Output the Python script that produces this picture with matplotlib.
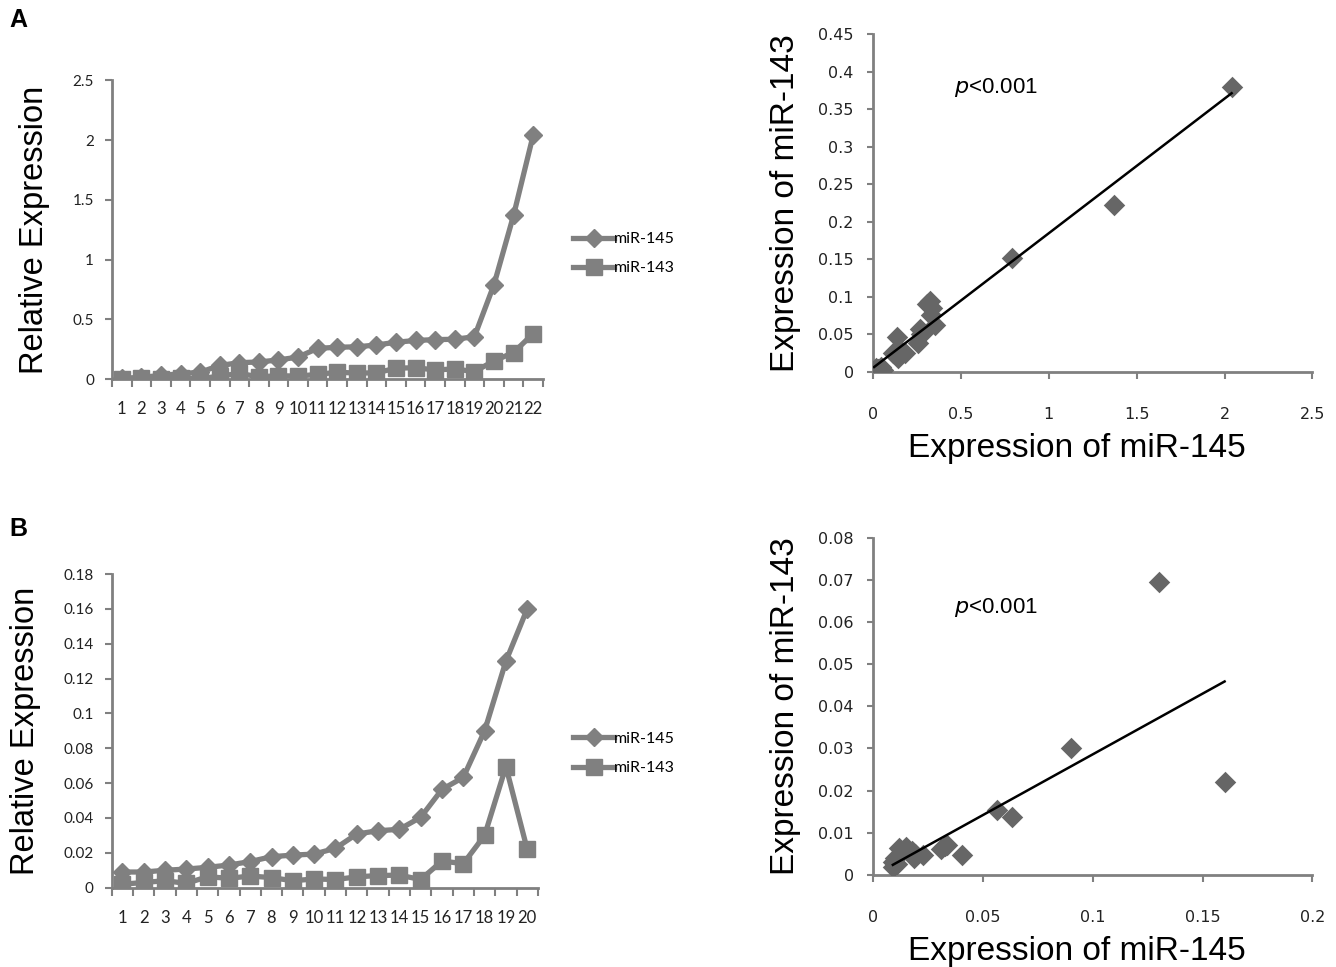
import matplotlib
matplotlib.use("Agg")
import matplotlib.pyplot as plt
import numpy as np

# panel A: 22 samples sorted by miR-145
mir145_a = [0.006, 0.015, 0.03, 0.045, 0.057, 0.114, 0.137, 0.143, 0.16, 0.184,
            0.257, 0.266, 0.27, 0.285, 0.308, 0.323, 0.33, 0.333, 0.354, 0.79, 1.37, 2.04]
mir143_a = [0.001, 0.005, 0.004, 0.006, 0.003, 0.025, 0.047, 0.019, 0.028, 0.025,
            0.039, 0.057, 0.05, 0.052, 0.091, 0.095, 0.076, 0.085, 0.062, 0.152, 0.222, 0.38]

# panel B: 20 samples sorted by miR-145
mir145_b = [0.009, 0.009, 0.010, 0.0107, 0.0117, 0.013, 0.015, 0.0178, 0.0187, 0.0193,
            0.0226, 0.0308, 0.0327, 0.0335, 0.0404, 0.0564, 0.0633, 0.090, 0.130, 0.160]
mir143_b = [0.002, 0.003, 0.004, 0.0025, 0.0063, 0.0054, 0.0067, 0.0058, 0.004, 0.005,
            0.0047, 0.0062, 0.007, 0.0072, 0.0047, 0.0153, 0.0138, 0.030, 0.0695, 0.022]

gray = "#808080"
dark = "#666666"
tickfont = ["Liberation Sans Narrow", "DejaVu Sans"]

fig = plt.figure(figsize=(13.36, 9.67), dpi=100)


def line_panel(rect, v145, v143, ymax, ystep, leg_y):
    ax = fig.add_axes(rect)
    n = len(v145)
    x = np.arange(1, n + 1)
    l1, = ax.plot(x, v145, color=gray, lw=3.8, marker="D", ms=9, label="miR-145")
    l2, = ax.plot(x, v143, color=gray, lw=3.8, marker="s", ms=11, label="miR-143")
    ax.set_xlim(0.5, n + 0.5)
    ax.set_ylim(0, ymax)
    ax.set_yticks(np.arange(0, ymax + ystep / 2, ystep))
    ax.set_yticklabels(["%g" % v for v in np.arange(0, ymax + ystep / 2, ystep)],
                       family=["Lato", "DejaVu Sans"], fontsize=11, color="#222222")
    ax.set_xticks(x)
    ax.set_xticklabels([str(i) for i in x], family=["Lato", "DejaVu Sans"],
                       fontsize=12, color="#222222")
    ax.set_xticks(np.arange(0.5, n + 1), minor=True)
    ax.tick_params(axis="x", which="major", length=0, pad=16)
    ax.tick_params(axis="x", which="minor", length=6, width=1.5, color=gray, direction="out")
    ax.tick_params(axis="y", length=5, width=1.5, color=gray, direction="out", pad=8)
    for s in ["top", "right"]:
        ax.spines[s].set_visible(False)
    for s in ["left", "bottom"]:
        ax.spines[s].set_color(gray)
        ax.spines[s].set_linewidth(2)
    ax.set_ylabel("Relative Expression", family="Liberation Sans", fontsize=23.5, labelpad=16)
    fig.legend(handles=[l1, l2], loc="upper left", bbox_to_anchor=(0.418, leg_y),
               frameon=False, handlelength=2.6, handletextpad=0.0,
               labelspacing=0.95, prop={"family": ["Lato", "DejaVu Sans"], "size": 11.5})
    return ax


def scatter_panel(rect, xv, yv, xmax, xstep, ymax, ystep, text_xy):
    ax = fig.add_axes(rect)
    xv = np.array(xv)
    yv = np.array(yv)
    ax.scatter(xv, yv, marker="D", s=120, color=dark, zorder=3, linewidths=0)
    k, b = np.polyfit(xv, yv, 1)
    xs = np.array([xv.min(), xv.max()])
    ax.plot(xs, k * xs + b, color="black", lw=1.8, zorder=4)
    ax.set_xlim(0, xmax)
    ax.set_ylim(0, ymax)
    xt = np.arange(0, xmax + xstep / 2, xstep)
    yt = np.arange(0, ymax + ystep / 2, ystep)
    ax.set_xticks(xt)
    ax.set_xticklabels(["%g" % round(v, 3) for v in xt], family=tickfont, fontsize=11.5, color="#222222")
    ax.set_yticks(yt)
    ax.set_yticklabels(["%g" % round(v, 3) for v in yt], family=tickfont, fontsize=11.5, color="#222222")
    ax.tick_params(axis="x", length=5, width=1.5, color=gray, direction="out", pad=20)
    ax.tick_params(axis="y", length=4, width=1.5, color=gray, direction="out", pad=10)
    for s in ["top", "right"]:
        ax.spines[s].set_visible(False)
    for s in ["left", "bottom"]:
        ax.spines[s].set_color(gray)
        ax.spines[s].set_linewidth(2)
    ax.set_xlabel("Expression of miR-145", family="Liberation Sans", fontsize=24, labelpad=8)
    ax.xaxis.label.set_x(0.463)
    ax.set_ylabel("Expression of miR-143", family="Liberation Sans", fontsize=24, labelpad=12)
    ax.text(text_xy[0], text_xy[1], r"$p$<0.001", transform=ax.transAxes,
            family="Liberation Sans", fontsize=16, ha="left", va="center")
    return ax


line_panel([0.0838, 0.608, 0.3226, 0.309], mir145_a, mir143_a, 2.5, 0.5, 0.775)
scatter_panel([0.6535, 0.6153, 0.3289, 0.3495], mir145_a, mir143_a, 2.5, 0.5, 0.45, 0.05, (0.185, 0.843))
line_panel([0.0836, 0.082, 0.319, 0.3244], mir145_b, mir143_b, 0.18, 0.02, 0.258)
scatter_panel([0.6535, 0.0951, 0.3289, 0.349], mir145_b, mir143_b, 0.2, 0.05, 0.08, 0.01, (0.185, 0.792))

fig.text(0.007, 0.979, "A", fontsize=18, fontweight="bold", family="Liberation Sans", va="center")
fig.text(0.007, 0.453, "B", fontsize=18, fontweight="bold", family="Liberation Sans", va="center")

fig.savefig("out.png", dpi=100)
